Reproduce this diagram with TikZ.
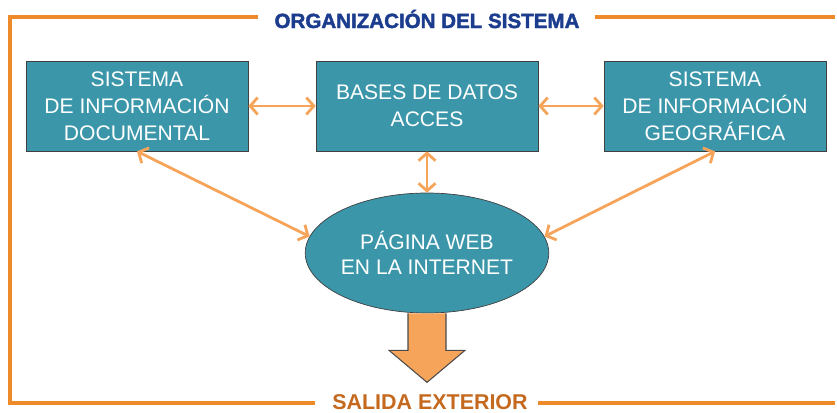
\documentclass[tikz,border=0pt]{standalone}
\usepackage{fontspec}
\setmainfont{Liberation Sans}
\newfontfamily\heavyfont{Liberation Sans}[BoldFeatures={FakeBold=2}]
\usetikzlibrary{arrows.meta,shapes.geometric,calc}
\definecolor{TealBox}{HTML}{3B96AA}
\definecolor{OrangeLink}{HTML}{F5A45A}
\definecolor{OrangeFrame}{HTML}{EE8A2A}
\definecolor{NavyTitle}{HTML}{1C3D8E}
\definecolor{BrownTitle}{HTML}{C4691E}
\begin{document}
\begin{tikzpicture}[x=0.02cm,y=-0.02cm,
    sysbox/.style={draw=black!75, fill=TealBox, text=white, align=center,
        minimum width=4.44cm, minimum height=1.8cm, inner sep=0pt,
        font=\fontsize{12}{15.5}\selectfont},
    webnode/.style={ellipse, draw=black!75, fill=TealBox, text=white, align=center,
        minimum width=4.86cm, minimum height=2.4cm, inner sep=0pt,
        font=\fontsize{12}{14.5}\selectfont},
    link/.style={OrangeLink, line width=1.6pt,
        {Straight Barb[length=1.5mm,width=3.4mm]}-{Straight Barb[length=1.5mm,width=3.4mm]}},
    frame/.style={OrangeFrame, line width=1.8pt}]
    \useasboundingbox (0,0) rectangle (837,412);
    %% Frame and headings
    \node[font=\heavyfont\bfseries\fontsize{11.7}{12}\selectfont, text=NavyTitle] (title) at (427,19) {ORGANIZACIÓN DEL SISTEMA};
    \node[font=\bfseries\fontsize{12.2}{13}\selectfont, text=BrownTitle] (exit) at (430,402) {SALIDA EXTERIOR};
    \draw[frame] (258,17) -- (10,17) -- (10,403) -- (315,403);
    \draw[frame] (595,17) -- (835,17);
    \draw[frame] (538,403) -- (835,403);
    %% Systems
    \node[sysbox] (doc) at (137,106) {SISTEMA\\DE INFORMACIÓN\\DOCUMENTAL};
    \node[sysbox] (bd) at (427,106) {BASES DE DATOS\\ACCES};
    \node[sysbox] (geo) at (715,106) {SISTEMA\\DE INFORMACIÓN\\GEOGRÁFICA};
    \node[webnode] (web) at (427,253) {PÁGINA WEB\\EN LA INTERNET};
    %% Links
    \draw[link] (doc) -- (bd);
    \draw[link] (bd) -- (geo);
    \draw[link] (bd) -- (web);
    \draw[link] (doc.south) -- (web.172);
    \draw[link] (geo.south) -- (web.8);
    %% Output arrow
    \draw[draw=black!70, fill=OrangeLink, line width=0.6pt]
        ($(web.south)+(-19,0)$) -- ++(0,37) -- ++(-19,0) -- ($(web.south)+(0,69)$)
        -- ($(web.south)+(38,37)$) -- ++(-19,0) -- ($(web.south)+(19,0)$);
\end{tikzpicture}
\end{document}
